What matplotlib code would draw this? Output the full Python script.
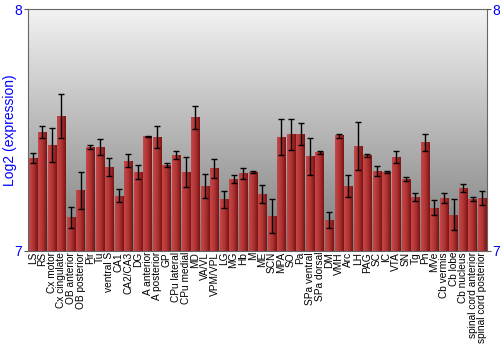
import numpy as np
import matplotlib
matplotlib.use('Agg')
import matplotlib.pyplot as plt
from matplotlib.colors import LinearSegmentedColormap

plt.rcParams['font.family'] = ['Liberation Sans', 'DejaVu Sans']

regions = ['LS', 'RS', 'Cx motor', 'Cx cingulate', 'OB anterior', 'OB posterior',
           'Pir', 'Tu', 'ventral S', 'CA1', 'CA2/CA3', 'DG', 'A anterior',
           'A posterior', 'GP', 'CPu lateral', 'CPu medial', 'MD', 'VA/VL',
           'VPM/VPL', 'LG', 'MG', 'Hb', 'M', 'ME', 'SCN', 'MPA', 'SO', 'Pa',
           'SPa ventral', 'SPa dorsal', 'DM', 'VMH', 'Arc', 'LH', 'PAG', 'SC',
           'IC', 'VTA', 'SN', 'Tg', 'Pn', 'MVe', 'Cb vermis', 'Cb lobe',
           'Cb nucleus', 'spinal cord anterior', 'spinal cord posterior']
values = [7.384, 7.492, 7.438, 7.557, 7.138, 7.251, 7.431, 7.430, 7.345, 7.228,
          7.373, 7.326, 7.475, 7.471, 7.354, 7.396, 7.326, 7.552, 7.268, 7.341,
          7.213, 7.297, 7.320, 7.327, 7.235, 7.144, 7.471, 7.482, 7.485, 7.392,
          7.407, 7.127, 7.477, 7.268, 7.435, 7.394, 7.329, 7.326, 7.388, 7.297,
          7.222, 7.450, 7.178, 7.218, 7.148, 7.258, 7.214, 7.218]
errors = [0.020, 0.026, 0.072, 0.092, 0.043, 0.077, 0.008, 0.032, 0.037, 0.028,
          0.026, 0.029, 0.002, 0.046, 0.008, 0.018, 0.064, 0.047, 0.048, 0.038,
          0.035, 0.017, 0.023, 0.004, 0.036, 0.072, 0.074, 0.065, 0.046, 0.077,
          0.006, 0.034, 0.008, 0.044, 0.099, 0.006, 0.021, 0.006, 0.026, 0.008,
          0.018, 0.035, 0.032, 0.019, 0.064, 0.017, 0.009, 0.030]

ymin, ymax = 7, 8
x = np.arange(len(regions))
bw = 0.88

fig = plt.figure(figsize=(5, 3.5), dpi=100)
ax = fig.add_axes([0.056, 0.284, 0.918, 0.689])

# background gradient
bg = LinearSegmentedColormap.from_list('bg', ['#7c7c7c', '#f2f2f2'])
grad = np.linspace(0, 1, 256).reshape(-1, 1)
ax.imshow(grad, cmap=bg, aspect='auto', origin='lower',
          extent=(-0.5, len(regions) - 0.5, ymin, ymax), zorder=0)

# bars with horizontal gradient
barcm = LinearSegmentedColormap.from_list('bar', ['#c44848', '#b03434', '#7e1414'])
hgrad = np.linspace(0, 1, 32).reshape(1, -1)
for xi, v in zip(x, values):
    ax.imshow(hgrad, cmap=barcm, aspect='auto',
              extent=(xi - bw / 2, xi + bw / 2, ymin, v), zorder=2)
ax.errorbar(x, values, yerr=errors, fmt='none', ecolor='black', elinewidth=1,
            capsize=2, capthick=1, zorder=3)
ax.set_xlim(-0.5, len(regions) - 0.5)
ax.set_ylim(ymin, ymax)

ax.set_xticks(x)
ax.set_xticklabels(regions, rotation=90, fontsize=7.3)
ax.tick_params(axis='x', length=0, pad=1)
ax.set_yticks([7, 8])
ax.tick_params(axis='y', which='both', colors='#555555', labelcolor='blue',
               labelsize=10, length=3, pad=1, right=True, labelright=True)
ax.set_ylabel('Log2 (expression)', color='blue', fontsize=10, labelpad=-2)
for s in ax.spines.values():
    s.set_color('#666666')

fig.savefig('out.png')
